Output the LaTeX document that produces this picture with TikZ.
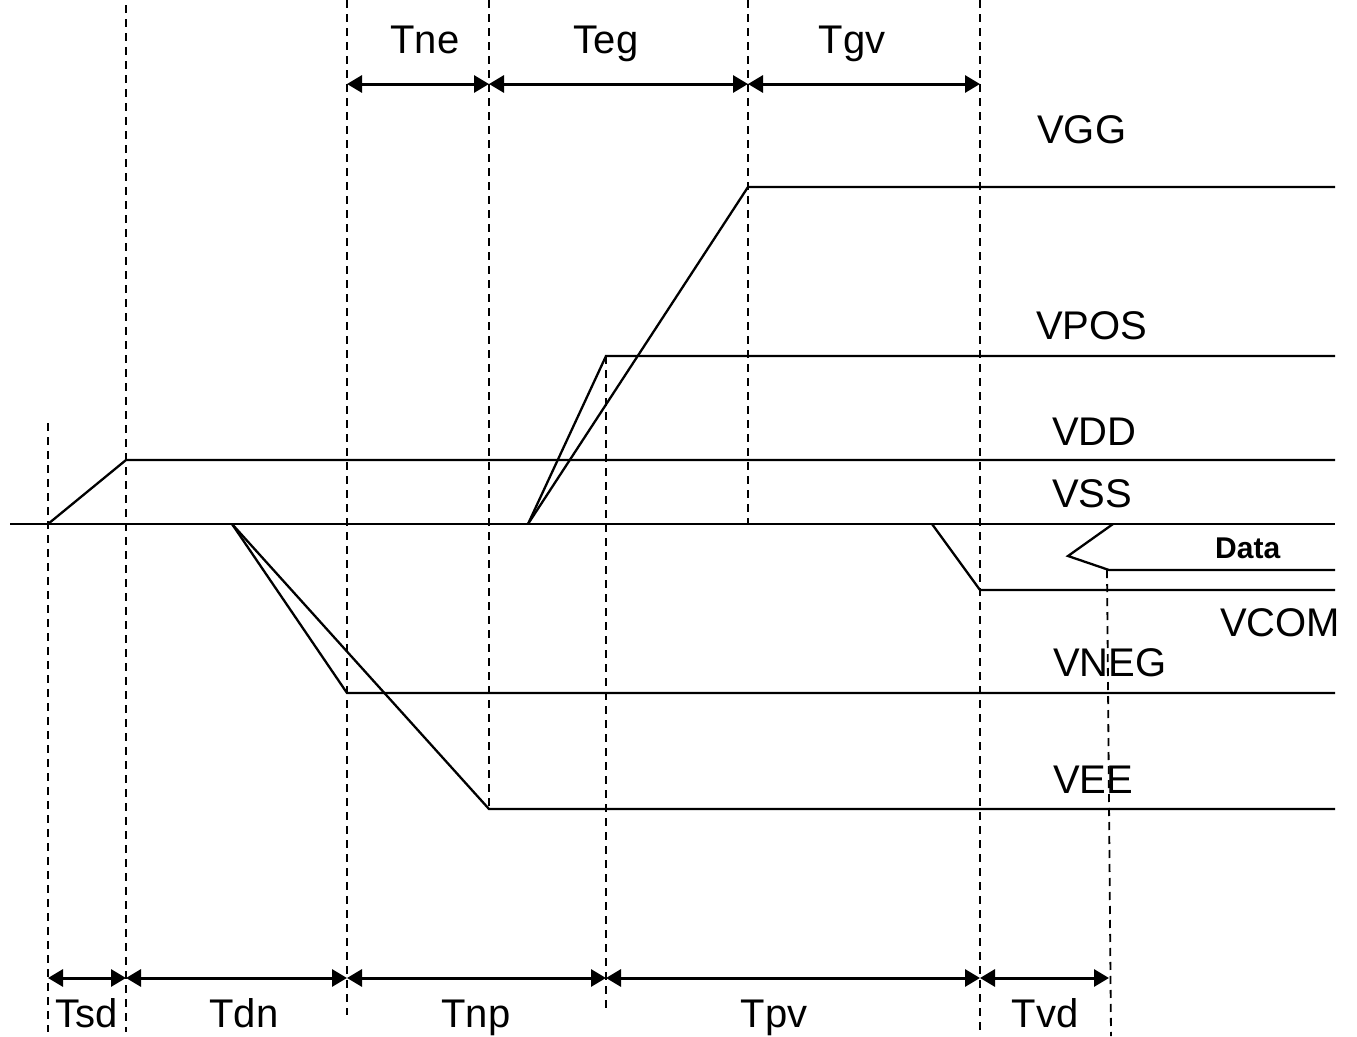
\documentclass[tikz,border=0pt]{standalone}
\usepackage{fontspec}
\setmainfont{Liberation Sans}
\usetikzlibrary{arrows.meta}

\begin{document}
\begin{tikzpicture}[x=1pt,y=-1pt,
  wave/.style={line width=2.3pt},
  guide/.style={line width=1.8pt,dash pattern=on 8pt off 6pt},
  span/.style={line width=3pt,{Triangle[length=15pt,width=17pt]}-{Triangle[length=15pt,width=17pt]}},
  lbl/.style={font=\fontsize{40}{48}\selectfont,inner sep=0pt,anchor=base west},
  tlbl/.style={font=\fontsize{40}{48}\selectfont,inner sep=0pt,anchor=base}]

\useasboundingbox (0,0) rectangle (1357,1036);

% dashed time marks
\foreach \i/\x/\ya/\yb in {0/48/423/1032,1/126/5/1032,2/347/0/1015,3/489/0/809,
                           4/606/356/1012,5/748/0/524,6/980/0/1032}
{
\coordinate (m\i) at (\x,\ya);
\coordinate (n\i) at (\x,\yb);
\draw[guide] (m\i)--(n\i);
}
\coordinate (m7) at (1107,570);
\coordinate (n7) at (1111,1036);
\draw[guide] (m7)--(n7);

% supply levels
\coordinate (ss0) at (10,524);
\coordinate (ss1) at (1335,524);
\draw[wave] (ss0)--(ss1);

\coordinate (dd0) at (48,524);
\coordinate (dd1) at (126,460);
\coordinate (dd2) at (1335,460);
\draw[wave] (dd0)--(dd1)--(dd2);

\coordinate (gg0) at (528,524);
\coordinate (gg1) at (748,187);
\coordinate (gg2) at (1335,187);
\draw[wave] (gg0)--(gg1)--(gg2);

\coordinate (po1) at (606,356);
\coordinate (po2) at (1335,356);
\draw[wave] (gg0)--(po1)--(po2);

\coordinate (ng0) at (232,524);
\coordinate (ng1) at (347,693);
\coordinate (ng2) at (1335,693);
\draw[wave] (ng0)--(ng1)--(ng2);

\coordinate (ee1) at (489,809);
\coordinate (ee2) at (1335,809);
\draw[wave] (ng0)--(ee1)--(ee2);

\coordinate (cm0) at (932,524);
\coordinate (cm1) at (980,590);
\coordinate (cm2) at (1335,590);
\draw[wave] (cm0)--(cm1)--(cm2);

\coordinate (da0) at (1113,524);
\coordinate (da1) at (1068,556);
\coordinate (da2) at (1109,570);
\coordinate (da3) at (1335,570);
\draw[wave] (da0)--(da1)--(da2)--(da3);

% spans
\coordinate (a2) at (347,84);
\coordinate (a3) at (489,84);
\coordinate (a5) at (748,84);
\coordinate (a6) at (980,84);
\draw[span] (a2)--(a3);
\draw[span] (a3)--(a5);
\draw[span] (a5)--(a6);

\coordinate (b0) at (48,978);
\coordinate (b1) at (126,978);
\coordinate (b2) at (347,978);
\coordinate (b4) at (606,978);
\coordinate (b6) at (980,978);
\coordinate (b7) at (1109,978);
\draw[span] (b0)--(b1);
\draw[span] (b1)--(b2);
\draw[span] (b2)--(b4);
\draw[span] (b4)--(b6);
\draw[span] (b6)--(b7);

% labels
\node[tlbl] (tne) at (425,53) {Tne};
\node[tlbl] (teg) at (606,53) {Teg};
\node[tlbl] (tgv) at (852,53) {Tgv};

\node[tlbl] (tsd) at (87,1027) {Tsd};
\node[tlbl] (tdn) at (244,1027) {Tdn};
\node[tlbl] (tnp) at (476,1027) {Tnp};
\node[tlbl] (tpv) at (774,1027) {Tpv};
\node[tlbl] (tvd) at (1045,1027) {Tvd};

\node[lbl] (vgg) at (1037,143) {VGG};
\node[lbl] (vpos) at (1036,339) {VPOS};
\node[lbl] (vdd) at (1052,445) {VDD};
\node[lbl] (vss) at (1052,507) {VSS};
\node[lbl] (vcom) at (1220,636) {VCOM};
\node[lbl] (vneg) at (1053,676) {VNEG};
\node[lbl] (vee) at (1053,793) {VEE};
\node[lbl,font=\fontsize{30}{36}\selectfont\bfseries] (data) at (1215,558) {Data};

\end{tikzpicture}
\end{document}
